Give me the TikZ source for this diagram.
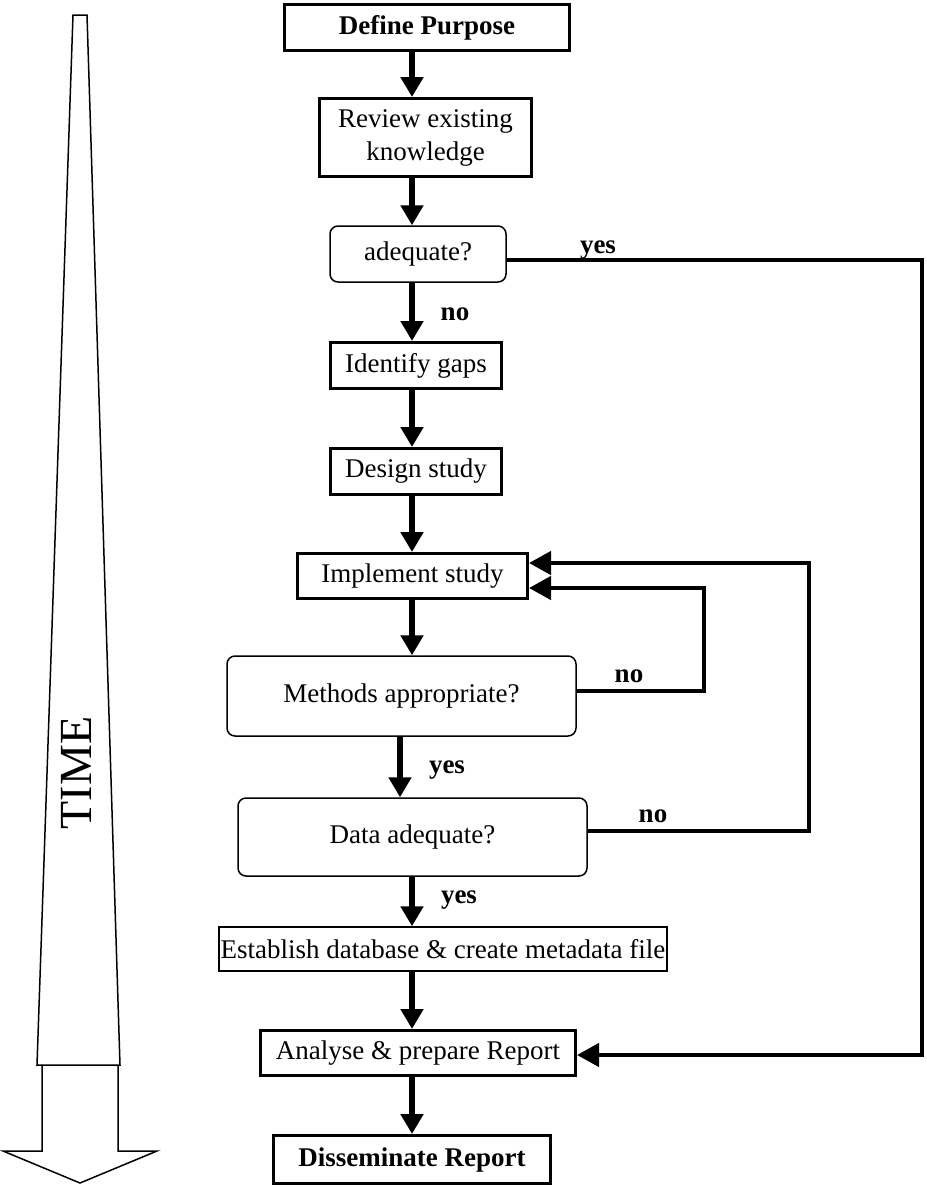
\documentclass[tikz,border=0pt]{standalone}
\usepackage{fontspec}
\setmainfont{Liberation Serif}
\usetikzlibrary{arrows.meta}

\begin{document}
\begin{tikzpicture}
  [ x=1pt, y=-1pt,
    box/.style={draw=black, line width=3pt, inner sep=0pt,
    font=\fontsize{27}{33}\selectfont, align=center},
    tbox/.style={box, line width=1.5pt},
    ask/.style={box, line width=1.5pt, rounded corners=8pt},
    lbl/.style={inner sep=0pt, anchor=base, font=\fontsize{27}{33}\selectfont\bfseries},
    fl/.style={line width=6pt, -{Triangle[length=20pt,width=22pt]}},
    lp/.style={line width=4.5pt, -{Triangle[length=22pt,width=23pt]}}
  ]
  \useasboundingbox (0,0) rectangle (927,1187);

  % time arrow
  \draw [line width=1.5pt] (73,15) -- (87,15) -- (120,1065) -- (37,1065) -- cycle;
  \draw [line width=1.5pt] (42,1065) -- (42,1151) -- (3,1151) -- (80,1183)
    -- (157,1151) -- (118,1151) -- (118,1065);
  \node (t01) at (76,773) [rotate=90, inner sep=0pt, font=\fontsize{46}{46}\selectfont] {TIME};

  % boxes
  \node (b01) at (427,27.5)  [box, minimum width=285pt, minimum height=46pt] {\bfseries Define Purpose};
  \node (b02) at (425.5,137.5) [box, minimum width=212pt, minimum height=78pt] {Review existing\\knowledge};
  \node (b03) at (418,254)   [ask, minimum width=176pt, minimum height=56pt] {adequate?};
  \node (b04) at (416,365.5) [box, minimum width=171pt, minimum height=46pt] {Identify gaps};
  \node (b05) at (416,471.5) [box, minimum width=171pt, minimum height=46pt] {Design study};
  \node (b06) at (412.5,576) [box, minimum width=230pt, minimum height=45pt] {Implement study};
  \node (b07) at (401.5,696) [ask, minimum width=349pt, minimum height=80pt] {Methods appropriate?};
  \node (b08) at (412.5,837) [ask, minimum width=349pt, minimum height=78pt] {Data adequate?};
  \node (b09) at (443,949)   [tbox, minimum width=448pt, minimum height=44pt] {Establish database \& create metadata file};
  \node (b10) at (418,1053)  [box, minimum width=315pt, minimum height=45pt] {Analyse \& prepare Report};
  \node (b11) at (412,1159.5) [box, minimum width=277pt, minimum height=48pt] {\bfseries Disseminate Report};

  % labels
  \node (l01) at (598,253) [lbl] {yes};
  \node (l02) at (455,320) [lbl] {no};
  \node (l03) at (629,682) [lbl] {no};
  \node (l04) at (447,773) [lbl] {yes};
  \node (l05) at (653,822) [lbl] {no};
  \node (l06) at (459,903) [lbl] {yes};

  \coordinate (col) at (412,0);
  \coordinate (col2) at (400,0);
  \coordinate (k1) at (704,588);
  \coordinate (k2) at (809,563);
  \coordinate (k3) at (922,1055);

  % main flow
  \draw [fl] (b01.south -| col) -- (b02.north -| col);
  \draw [fl] (b02.south -| col) -- (b03.north -| col);
  \draw [fl] (b03.south -| col) -- (b04.north -| col);
  \draw [fl] (b04.south -| col) -- (b05.north -| col);
  \draw [fl] (b05.south -| col) -- (b06.north -| col);
  \draw [fl] (b06.south -| col) -- (b07.north -| col);
  \draw [fl] (b07.south -| col2) -- (b08.north -| col2);
  \draw [fl] (b08.south -| col) -- (b09.north -| col);
  \draw [fl] (b09.south -| col) -- (b10.north -| col);
  \draw [fl] (b10.south -| col) -- (b11.north -| col);

  % loops
  \draw [lp] ([yshift=5pt]b07.east) -| (k1) |- ([yshift=-12pt]b06.east);
  \draw [lp] ([yshift=6pt]b08.east) -| (k2) |- ([yshift=13pt]b06.east);
  \draw [lp] ([yshift=-6pt]b03.east) -| (k3) |- ([yshift=-2pt]b10.east);
\end{tikzpicture}
\end{document}
